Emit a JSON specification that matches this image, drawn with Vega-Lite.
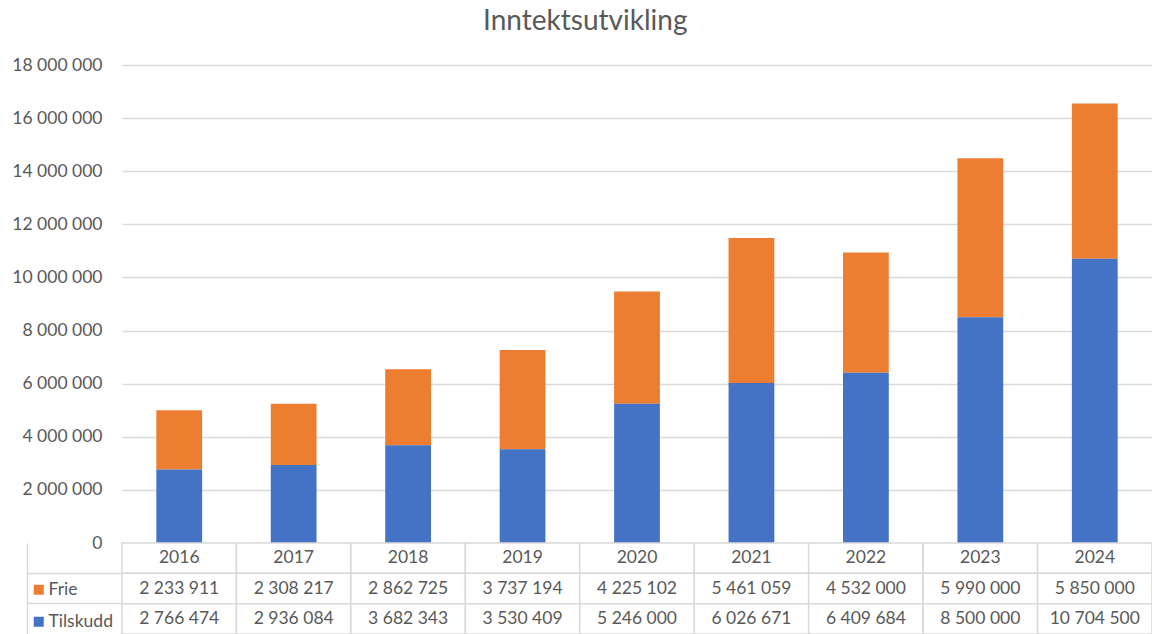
{
  "$schema": "https://vega.github.io/schema/vega-lite/v6.json",
  "background": "white",
  "padding": {"left": 11, "top": 8, "right": 0, "bottom": 0},
  "config": {
    "locale": {"number": {"decimal": ",", "thousands": " ", "grouping": [3], "currency": ["", " kr"]}},
    "font": "Lato",
    "view": {"stroke": null}
  },
  "title": {"text": "Inntektsutvikling", "fontSize": 28, "fontWeight": "normal", "color": "#595959", "font": "Lato", "anchor": "middle", "offset": 20, "dx": 3},
  "datasets": {
    "inntekt": [
      {"year": 2016, "Frie": 2233911, "Tilskudd": 2766474},
      {"year": 2017, "Frie": 2308217, "Tilskudd": 2936084},
      {"year": 2018, "Frie": 2862725, "Tilskudd": 3682343},
      {"year": 2019, "Frie": 3737194, "Tilskudd": 3530409},
      {"year": 2020, "Frie": 4225102, "Tilskudd": 5246000},
      {"year": 2021, "Frie": 5461059, "Tilskudd": 6026671},
      {"year": 2022, "Frie": 4532000, "Tilskudd": 6409684},
      {"year": 2023, "Frie": 5990000, "Tilskudd": 8500000},
      {"year": 2024, "Frie": 5850000, "Tilskudd": 10704500}
    ]
  },
  "spacing": 0,
  "bounds": "flush",
  "resolve": {"scale": {"x": "independent", "y": "independent"}},
  "vconcat": [
    {
      "width": 1030,
      "height": 478,
      "data": {"name": "inntekt"},
      "transform": [{"fold": ["Frie", "Tilskudd"], "as": ["serie", "verdi"]}],
      "mark": {"type": "bar"},
      "encoding": {
        "x": {"field": "year", "type": "ordinal", "axis": null, "scale": {"paddingInner": 0.6, "paddingOuter": 0.3}},
        "y": {
          "field": "verdi", "type": "quantitative", "stack": "zero",
          "scale": {"domain": [0, 18000000], "nice": false},
          "axis": {
            "title": null,
            "values": [0, 2000000, 4000000, 6000000, 8000000, 10000000, 12000000, 14000000, 16000000, 18000000],
            "format": ",d",
            "labelFont": "Lato", "labelFontSize": 17.5, "labelColor": "#595959", "labelPadding": 20,
            "ticks": false, "domain": false,
            "gridColor": "#D9D9D9", "gridWidth": 1.3
          }
        },
        "color": {
          "field": "serie", "type": "nominal",
          "scale": {"domain": ["Frie", "Tilskudd"], "range": ["#ED7D31", "#4472C4"]},
          "legend": {
            "orient": "none", "legendX": -92, "legendY": 516, "title": null, "direction": "vertical",
            "symbolType": "square", "symbolSize": 100, "symbolStrokeWidth": 0,
            "labelFont": "Lato", "labelFontSize": 17.5, "labelColor": "#595959", "labelOffset": 1,
            "rowPadding": 13, "padding": 0
          }
        },
        "order": {"field": "serie", "sort": "descending"}
      }
    },
    {
      "width": 1030,
      "height": 91,
      "data": {"name": "inntekt"},
      "encoding": {
        "x": {"field": "year", "type": "ordinal", "axis": null, "scale": {"paddingInner": 0, "paddingOuter": 0}}
      },
      "layer": [
        {
          "mark": {"type": "rect", "fill": "white", "stroke": "#D9D9D9", "strokeWidth": 1.5},
          "encoding": {
            "y": {
              "datum": "header", "type": "nominal",
              "scale": {"domain": ["header", "Frie", "Tilskudd"], "paddingInner": 0, "paddingOuter": 0},
              "axis": {
                "title": null, "values": ["Frie", "Tilskudd"], "bandPosition": 0, "labels": false,
                "offset": 95, "tickSize": -95, "tickColor": "#D9D9D9", "tickWidth": 1.5,
                "domainColor": "#D9D9D9", "domainWidth": 1.5, "grid": false
              }
            }
          }
        },
        {
          "mark": {"type": "text", "font": "Lato", "fontSize": 17.5, "color": "#595959"},
          "encoding": {
            "y": {"datum": "header", "type": "nominal"},
            "text": {"field": "year", "type": "nominal"}
          }
        },
        {
          "transform": [{"fold": ["Frie", "Tilskudd"], "as": ["serie", "verdi"]}],
          "mark": {"type": "rect", "fill": "white", "stroke": "#D9D9D9", "strokeWidth": 1.5},
          "encoding": {
            "y": {"field": "serie", "type": "nominal"}
          }
        },
        {
          "transform": [{"fold": ["Frie", "Tilskudd"], "as": ["serie", "verdi"]}],
          "mark": {"type": "text", "font": "Lato", "fontSize": 17.5, "color": "#595959"},
          "encoding": {
            "y": {"field": "serie", "type": "nominal"},
            "text": {"field": "verdi", "type": "quantitative", "format": ",d"}
          }
        }
      ]
    }
  ]
}
